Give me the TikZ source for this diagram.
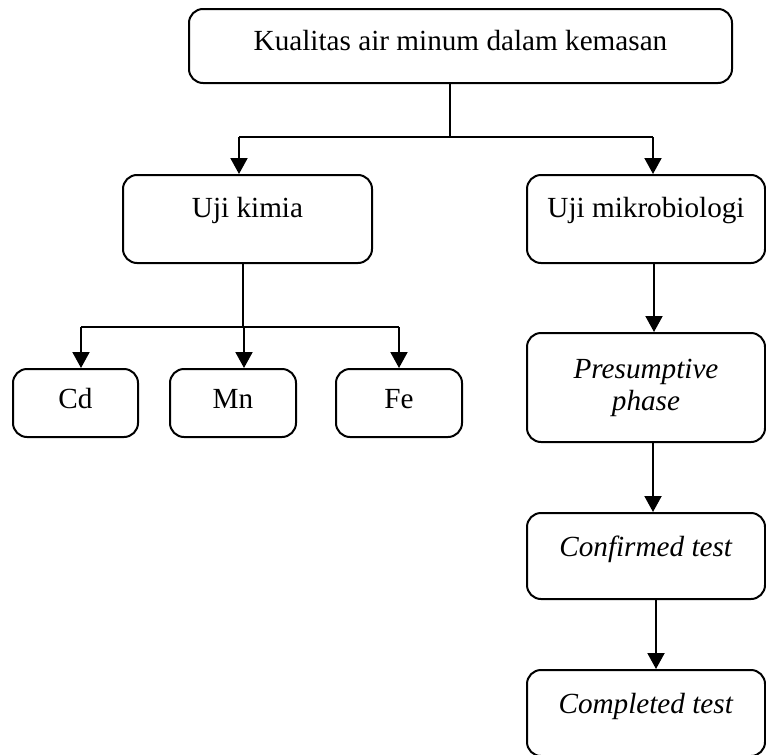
\documentclass[tikz,border=0pt]{standalone}
\usepackage{fontspec}
\setmainfont{Liberation Serif}
\usetikzlibrary{arrows.meta}

\begin{document}
\begin{tikzpicture}[x=1pt,y=-1pt,line width=2pt,
  box/.style={draw,rounded corners=14pt,inner sep=0pt,align=center,
    font=\fontsize{29.2}{32}\selectfont},
  lift/.style={text height=20pt,text depth=#1},
  arr/.style={-{Triangle[width=17pt,length=16pt]}}]
\useasboundingbox (0,0) rectangle (766,755);

\node[box,lift=11pt,minimum width=543pt,minimum height=74pt] (top) at (460.5,46) {Kualitas air minum dalam kemasan};
\node[box,lift=24pt,minimum width=249pt,minimum height=88pt] (kimia) at (247.5,219) {Uji kimia};
\node[box,lift=24pt,minimum width=238pt,minimum height=88pt] (mikro) at (646,219) {Uji mikrobiologi};

\node[box,lift=9pt,minimum width=125pt,minimum height=68pt] (cd) at (75.5,403) {Cd};
\node[box,lift=9pt,minimum width=126pt,minimum height=68pt] (mn) at (233,403) {Mn};
\node[box,lift=9pt,minimum width=126pt,minimum height=68pt] (fe) at (399,403) {Fe};

\node[box,minimum width=238pt,minimum height=109pt] (pres) at (646,387.5) {\textit{Presumptive}\\\textit{phase}};
\node[box,lift=20pt,minimum width=238pt,minimum height=86pt] (conf) at (646,556) {\textit{Confirmed test}};
\node[box,lift=20pt,minimum width=238pt,minimum height=86pt] (comp) at (646,713) {\textit{Completed test}};

% cabang atas
\coordinate (split) at (450,137);
\coordinate (lbend) at (239,137);
\coordinate (rbend) at (653,137);
\path[draw] (split |- top.south) -- (split);
\path[draw] (lbend) -- (rbend);
\path[draw,arr] (lbend) -- (lbend |- kimia.north);
\path[draw,arr] (rbend) -- (rbend |- mikro.north);

% cabang uji kimia
\coordinate (ksplit) at (243,327);
\coordinate (cdbend) at (81,327);
\coordinate (mnbend) at (244,327);
\coordinate (febend) at (399,327);
\path[draw] (ksplit |- kimia.south) -- (ksplit);
\path[draw] (cdbend) -- (febend);
\path[draw,arr] (cdbend) -- (cdbend |- cd.north);
\path[draw,arr] (mnbend) -- (mnbend |- mn.north);
\path[draw,arr] (febend) -- (febend |- fe.north);

% alur uji mikrobiologi
\path[draw,arr] ([xshift=8pt]mikro.south) -- ([xshift=8pt]pres.north);
\path[draw,arr] ([xshift=7pt]pres.south) -- ([xshift=7pt]conf.north);
\path[draw,arr] ([xshift=10pt]conf.south) -- ([xshift=10pt]comp.north);
\end{tikzpicture}
\end{document}
